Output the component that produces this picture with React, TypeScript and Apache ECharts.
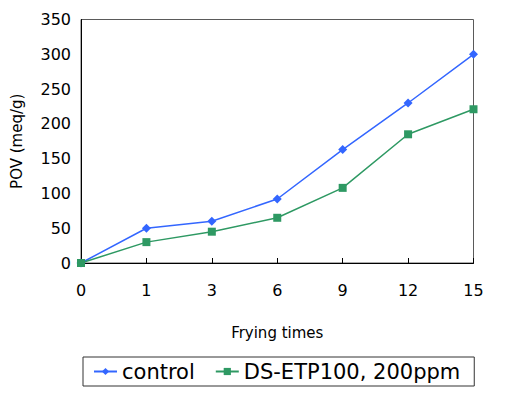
import React, { useEffect, useRef } from "react";
import * as echarts from "echarts";

const categories = ["0", "1", "3", "6", "9", "12", "15"];
const controlValues = [0, 50, 60, 92, 163, 230, 300];
const dsValues = [0, 30, 45, 65, 108, 185, 221];
const seriesNames = ["control", "DS-ETP100, 200ppm"];

const FONT = "DejaVu Sans";

export default function App() {
  const ref = useRef<HTMLDivElement>(null);
  useEffect(() => {
    if (!ref.current) return;
    const chart = echarts.init(ref.current, undefined, { renderer: "svg" });
    chart.setOption({
      animation: false,
      backgroundColor: "#ffffff",
      textStyle: { fontFamily: FONT },
      grid: {
        left: 81,
        right: 56.5,
        top: 19.5,
        bottom: 136,
        show: true,
        borderColor: "#5a5a5a",
        borderWidth: 1,
        outerBoundsMode: "none",
        containLabel: false,
      },
      legend: {
        left: 83,
        top: 357,
        orient: "horizontal",
        borderColor: "#333333",
        borderWidth: 1,
        padding: [4, 14, 4, 10],
        itemGap: 20,
        itemWidth: 23,
        itemHeight: 9,
        textStyle: { fontFamily: FONT, fontSize: 21, color: "#000" },
        data: seriesNames,
      },
      xAxis: {
        type: "category",
        data: categories,
        boundaryGap: false,
        name: "Frying times",
        nameLocation: "middle",
        nameGap: 62,
        nameTextStyle: { fontFamily: FONT, fontSize: 15, color: "#000" },
        axisLine: { lineStyle: { color: "#000", width: 1 } },
        axisTick: { show: true, inside: true, length: 5, lineStyle: { color: "#000" } },
        axisLabel: { color: "#000", fontSize: 16, margin: 19, fontFamily: FONT },
        splitLine: { show: false },
      },
      yAxis: {
        type: "value",
        min: 0,
        max: 350,
        interval: 50,
        name: "POV (meq/g)",
        nameLocation: "middle",
        nameGap: 57,
        nameTextStyle: { fontFamily: FONT, fontSize: 15, color: "#000" },
        axisLine: { show: true, lineStyle: { color: "#000", width: 1 } },
        axisTick: { show: false },
        axisLabel: { color: "#000", fontSize: 16, margin: 10, fontFamily: FONT },
        splitLine: { show: false },
      },
      series: [
        {
          name: seriesNames[0],
          type: "line",
          data: controlValues,
          symbol: "diamond",
          symbolSize: 9,
          itemStyle: { color: "#3366ff" },
          lineStyle: { color: "#3366ff", width: 1.5 },
        },
        {
          name: seriesNames[1],
          type: "line",
          data: dsValues,
          symbol: "rect",
          symbolSize: 8,
          itemStyle: { color: "#2e9963" },
          lineStyle: { color: "#2e9963", width: 1.5 },
        },
      ],
    });
    return () => chart.dispose();
  }, []);
  return <div ref={ref} style={{ width: 530, height: 399, margin: -8 }} />;
}
